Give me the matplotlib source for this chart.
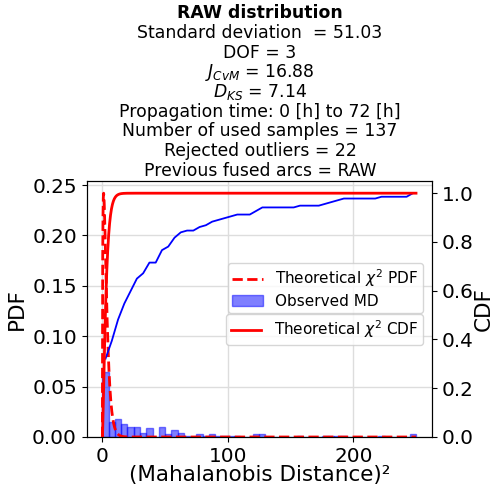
import math
import numpy as np
import matplotlib
matplotlib.use("Agg")
import matplotlib.pyplot as plt

# ---- data ----
dof = 3
n_samples = 137
bin_width = 5.0
bin_start = 0.0
# counts of observed squared Mahalanobis distances per bin (width 5, from 0 to 250)
counts = [44, 10, 12, 9, 7, 7, 3, 6, 0, 7,
          2, 5, 3, 1, 0, 2, 1, 2, 1, 1,
          1, 1, 0, 0, 2, 2, 0, 0, 0, 0,
          0, 1, 0, 0, 0, 1, 1, 1, 1, 0,
          0, 0, 0, 0, 1, 0, 0, 0, 0, 2]
x_max = 250.0

title_bold = "RAW distribution"
title_lines = [
    "Standard deviation  = 51.03",
    "DOF = 3",
    r"$J_{CvM}$ = 16.88",
    r"$D_{KS}$ = 7.14",
    "Propagation time: 0 [h] to 72 [h]",
    "Number of used samples = 137",
    "Rejected outliers = 22",
    "Previous fused arcs = RAW",
]

counts = np.array(counts, dtype=float)
edges = bin_start + bin_width * np.arange(len(counts) + 1)
centers = 0.5 * (edges[:-1] + edges[1:])
density = counts / (counts.sum() * bin_width)
cdf_obs = np.cumsum(counts) / counts.sum()

# theoretical chi-square curves (dof = 3)
xs = np.linspace(0, x_max, 1000)
pdf_th = np.sqrt(xs) * np.exp(-xs / 2) / math.sqrt(2 * math.pi)
cdf_th = np.array([math.erf(math.sqrt(v / 2)) for v in xs]) - np.sqrt(2 * xs / math.pi) * np.exp(-xs / 2)

W, H = 493, 492
fig = plt.figure(figsize=(W / 100, H / 100), dpi=100)
ax_l, ax_r, ax_t, ax_b = 86.7, 431.7, 181, 437
ax1 = fig.add_axes([ax_l / W, 1 - ax_b / H, (ax_r - ax_l) / W, (ax_b - ax_t) / H])
ax2 = ax1.twinx()

bars = ax1.hist(centers, bins=edges, weights=density, color="blue", alpha=0.5,
                edgecolor="blue", linewidth=1, label="Observed MD")
pdf_line, = ax1.plot(xs, pdf_th, "r--", linewidth=2, label=r"Theoretical $\chi^2$ PDF")
ax2.plot(centers, cdf_obs, color="blue", linewidth=1.3)
cdf_line, = ax2.plot(xs, cdf_th, "r-", linewidth=2, label=r"Theoretical $\chi^2$ CDF")

ax1.set_ylim(0, pdf_th.max() * 1.05)
ax2.set_ylim(0, 1.05)
ax1.set_xlim(-12.5, 262.5)
ax1.grid(True, color="#dddddd", linewidth=1)
ax1.set_axisbelow(True)

fs_tick = 14.4
ax1.tick_params(labelsize=fs_tick)
ax2.tick_params(labelsize=fs_tick)
ax1.set_xticks([0, 100, 200])
ax1.set_yticks([0, 0.05, 0.10, 0.15, 0.20, 0.25])
ax2.set_yticks([0, 0.2, 0.4, 0.6, 0.8, 1.0])
ax1.set_xlabel("(Mahalanobis Distance)²", fontsize=15.5, labelpad=-0.5)
ax1.set_ylabel("PDF", fontsize=15.5)
ax2.set_ylabel("CDF", fontsize=15.5, labelpad=0.5)

h1, l1 = ax1.get_legend_handles_labels()
order = [l1.index(r"Theoretical $\chi^2$ PDF"), l1.index("Observed MD")]
ax1.legend([h1[i] for i in order], [l1[i] for i in order],
           loc="lower right", bbox_to_anchor=(0.974, 0.484),
           borderaxespad=0, fontsize=11, borderpad=0.3, labelspacing=0.3)
ax2.legend(loc="upper right", bbox_to_anchor=(0.974, 0.480),
           borderaxespad=0, fontsize=11, borderpad=0.3)

xc = 260 / W
fs_title = 12.4
fig.text(xc, 1 - 18.3 / H, title_bold, ha="center", va="baseline",
         fontsize=fs_title, fontweight="bold")
for k, line in enumerate(title_lines, start=1):
    fig.text(xc, 1 - (18.3 + 19.7 * k) / H, line, ha="center", va="baseline",
             fontsize=fs_title)

fig.savefig("out.png", dpi=100)
